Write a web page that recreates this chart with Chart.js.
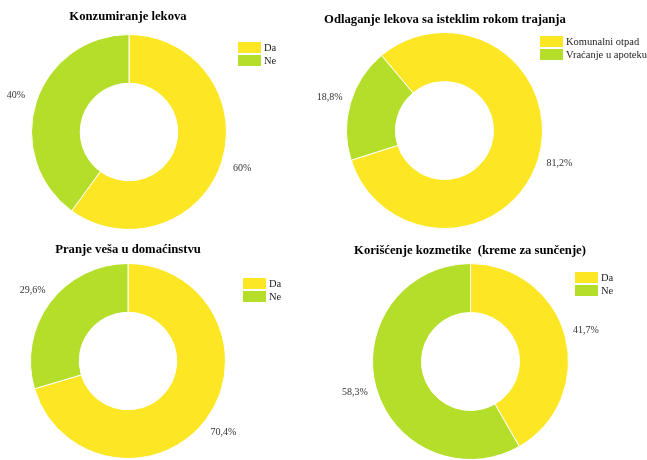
<!DOCTYPE html>
<html>
<head>
<meta charset="utf-8">
<script src="https://cdn.jsdelivr.net/npm/chart.js@4.4.0/dist/chart.umd.min.js"></script>
<style>
  html, body { margin: 0; padding: 0; background: #fff; }
  #wrap { position: relative; width: 647px; height: 460px; }
  .cell { position: absolute; left: 0; top: 0; width: 647px; height: 460px; }
</style>
</head>
<body>
<div id="wrap">
  <div class="cell"><canvas id="c1"></canvas></div>
  <div class="cell"><canvas id="c2"></canvas></div>
  <div class="cell"><canvas id="c3"></canvas></div>
  <div class="cell"><canvas id="c4"></canvas></div>
</div>
<script>
// podaci za svaki grafikon
const naslovi = [
  'Konzumiranje lekova',
  'Odlaganje lekova sa isteklim rokom trajanja',
  'Pranje veša u domaćinstvu',
  'Korišćenje kozmetike  (kreme za sunčenje)'
];
const kategorijeDaNe = ['Da', 'Ne'];
const kategorijeOdlaganje = ['Komunalni otpad', 'Vraćanje u apoteku'];
const konzumiranje = [60, 40];
const odlaganje = [81.2, 18.8];
const pranje = [70.4, 29.6];
const kozmetika = [41.7, 58.3];

const boje = ['#FDE725', '#B5DE2B'];

// format broja sa zarezom
function procenat(v) {
  return String(v).replace('.', ',') + '%';
}

// plugin koji crta naslov, legendu i procente oko prstena
const ukrasi = {
  id: 'ukrasi',
  afterDraw(chart, args, opts) {
    const ctx = chart.ctx;
    const meta = chart.getDatasetMeta(0);
    const podaci = chart.data.datasets[0].data;
    ctx.save();

    // naslov
    ctx.fillStyle = '#000';
    ctx.font = 'bold 12.7px "Liberation Serif", serif';
    ctx.textAlign = 'center';
    ctx.textBaseline = 'middle';
    ctx.fillText(opts.naslov, opts.naslovX, opts.naslovY);

    // legenda
    ctx.font = '10.5px "Liberation Serif", serif';
    ctx.textAlign = 'left';
    chart.data.labels.forEach((lab, i) => {
      const y = opts.legendaY + i * 13;
      ctx.fillStyle = boje[i];
      ctx.fillRect(opts.legendaX, y, 23, 11);
      ctx.fillStyle = '#222';
      ctx.fillText(lab, opts.legendaX + 26, y + 6);
    });

    // procenti
    ctx.font = '10px "Liberation Serif", serif';
    ctx.textAlign = 'center';
    ctx.fillStyle = '#333';
    meta.data.forEach((arc, i) => {
      const mid = (arc.startAngle + arc.endAngle) / 2;
      const r = arc.outerRadius * 1.22;
      ctx.fillText(procenat(podaci[i]), arc.x + Math.cos(mid) * r, arc.y + Math.sin(mid) * r);
    });
    ctx.restore();
  }
};

function napraviGrafikon(id, oznake, vrednosti, naslov, rotacija, padding, ukrasOpts) {
  const ctx = document.getElementById(id).getContext('2d');
  new Chart(ctx, {
    type: 'doughnut',
    data: {
      labels: oznake,
      datasets: [{
        data: vrednosti,
        backgroundColor: boje,
        borderColor: '#fff',
        borderWidth: 1,
        hoverOffset: 0
      }]
    },
    options: {
      responsive: true,
      maintainAspectRatio: false,
      animation: false,
      cutout: '50%',
      rotation: rotacija,
      layout: { padding: padding },
      plugins: {
        legend: { display: false },
        title: { display: false },
        tooltip: { enabled: false },
        ukrasi: Object.assign({ naslov: naslov }, ukrasOpts)
      }
    },
    plugins: [ukrasi]
  });
}

napraviGrafikon('c1', kategorijeDaNe, konzumiranje, naslovi[0], 0,
  { left: 31, top: 34, right: 420, bottom: 230 },
  { naslovX: 128, naslovY: 17, legendaX: 238, legendaY: 42 });

napraviGrafikon('c2', kategorijeOdlaganje, odlaganje, naslovi[1], -40,
  { left: 346, top: 32, right: 104, bottom: 231 },
  { naslovX: 445, naslovY: 20, legendaX: 540, legendaY: 36 });

napraviGrafikon('c3', kategorijeDaNe, pranje, naslovi[2], 0,
  { left: 30, top: 263, right: 421, bottom: 1 },
  { naslovX: 128, naslovY: 250, legendaX: 243, legendaY: 278 });

napraviGrafikon('c4', kategorijeDaNe, kozmetika, naslovi[3], 0,
  { left: 372, top: 263, right: 78, bottom: 0 },
  { naslovX: 470, naslovY: 251, legendaX: 575, legendaY: 272 });
</script>
</body>
</html>
